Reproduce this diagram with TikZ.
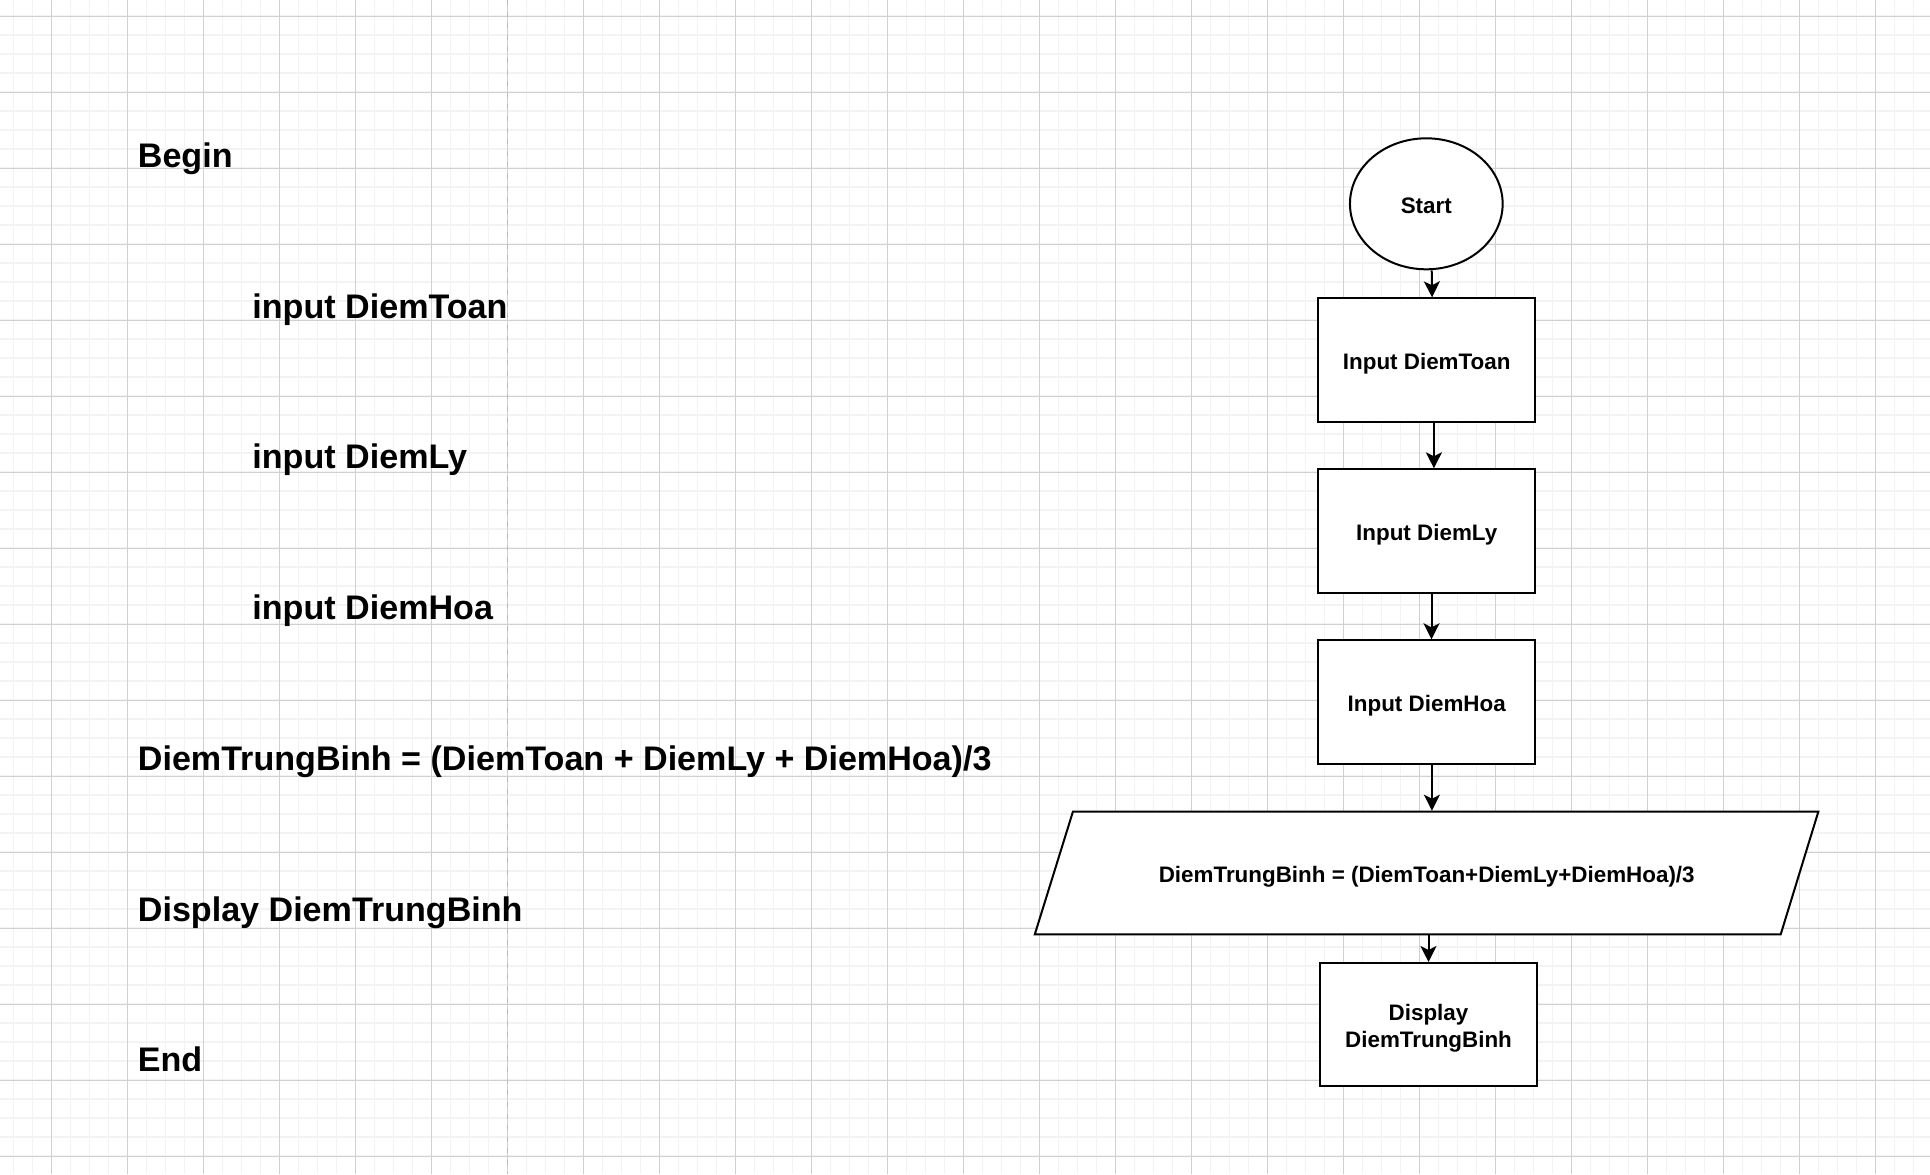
\documentclass[tikz,border=0pt]{standalone}
\usepackage{fontspec}
\setmainfont{Liberation Sans}
\usetikzlibrary{arrows.meta, shapes.geometric}

\definecolor{gridminor}{RGB}{243,243,243}
\definecolor{gridmajor}{RGB}{208,208,208}
\definecolor{pagebreak}{RGB}{185,185,185}

\tikzset{
  pseudo/.style={anchor=base west, inner sep=0pt, font=\fontsize{17.05}{20}\selectfont\bfseries},
  chartbox/.style={draw, line width=1pt, fill=white, inner sep=0pt, align=center,
    font=\fontsize{11.2}{13.5}\selectfont\bfseries,
    execute at begin node={\rule[-2.4pt]{0pt}{14.5pt}}},
  terminal/.style={chartbox, ellipse, minimum width=76.35pt, minimum height=65.5pt},
  stepbox/.style={chartbox, rectangle, minimum width=108.3pt, minimum height=61.7pt},
  flow/.style={line width=1pt, -{Stealth[length=8pt, width=8pt, inset=2pt]}}
}

\begin{document}
\begin{tikzpicture}[x=0.5pt, y=-0.5pt]
  \useasboundingbox (0,0) rectangle (1930,1174);
  \fill[white] (0,0) rectangle (1930,1174);
  % grid of the page
  \foreach \i in {0,...,100}
    \draw[gridminor, line width=0.6pt] ({13.3+19*\i},0) -- ({13.3+19*\i},1174);
  \foreach \j in {0,...,60}
    \draw[gridminor, line width=0.6pt] (0,{16+19*\j}) -- (1930,{16+19*\j});
  \foreach \i in {0,...,24}
    \draw[gridmajor, line width=0.5pt] ({51.3+76*\i},0) -- ({51.3+76*\i},1174);
  \foreach \j in {0,...,15}
    \draw[gridmajor, line width=0.5pt] (0,{16+76*\j}) -- (1930,{16+76*\j});
  % page break
  \draw[pagebreak, line width=0.8pt, dash pattern=on 2.5pt off 3.3pt] (507.5,0) -- (507.5,1174);

  % pseudocode
  \node[pseudo] (pbegin) at (137.5,167.5) {Begin};
  \node[pseudo] (ptoan) at (252,318) {input DiemToan};
  \node[pseudo] (ply) at (252,468.8) {input DiemLy};
  \node[pseudo] (phoa) at (252,619.6) {input DiemHoa};
  \node[pseudo] (pcalc) at (137.5,770.4) {DiemTrungBinh = (DiemToan + DiemLy + DiemHoa)/3};
  \node[pseudo] (pshow) at (137.5,921.2) {Display DiemTrungBinh};
  \node[pseudo] (pend) at (137.5,1071.5) {End};

  % flowchart
  \node[terminal] (start) at (1426.3,203.8) {Start};
  \node[stepbox] (intoan) at (1426.7,360) {Input DiemToan};
  \node[stepbox] (inly) at (1426.7,531) {Input DiemLy};
  \node[stepbox] (inhoa) at (1426.7,702) {Input DiemHoa};
  \draw[line width=1pt, fill=white] (1072.9,811.7) -- (1818.3,811.7) -- (1780.7,934.3) -- (1034.8,934.3) -- cycle;
  \node[chartbox, draw=none, fill=none, minimum width=372.8pt, minimum height=61.3pt] (calc) at (1426.7,873)
    {DiemTrungBinh = (DiemToan+DiemLy+DiemHoa)/3};
  \node[stepbox, execute at begin node={}] (display) at (1428.5,1024.7)
    {\rule{0pt}{12.1pt}Display\\DiemTrungBinh};

  \draw[flow] ([xshift=2.7pt]start.south) -- ([xshift=2.7pt]intoan.north);
  \draw[flow] ([xshift=3.6pt]intoan.south) -- ([xshift=3.6pt]inly.north);
  \draw[flow] ([xshift=2.4pt]inly.south) -- ([xshift=2.4pt]inhoa.north);
  \draw[flow] ([xshift=2.6pt]inhoa.south) -- ([xshift=2.6pt]calc.north);
  \draw[flow] (display.north |- calc.south) -- (display.north);
\end{tikzpicture}
\end{document}
